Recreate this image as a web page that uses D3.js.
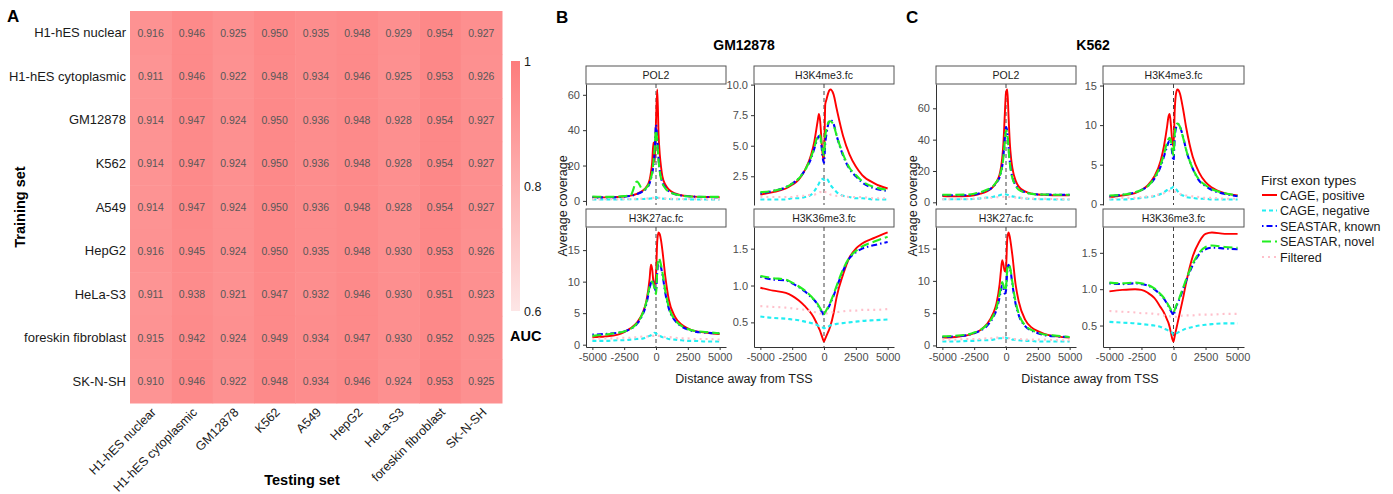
<!DOCTYPE html>
<html>
<head>
<meta charset="utf-8">
<title></title>
<style>
  body { margin: 0; background: #fff; }
  svg { font-family: "Liberation Sans", Arial, sans-serif; }
</style>
</head>
<body>
<script src="https://d3js.org/d3.v7.min.js"></script>
<script>
// ---- panel A data: AUC of training set (rows) vs testing set (cols)
const cellLines = ["H1-hES nuclear", "H1-hES cytoplasmic", "GM12878", "K562", "A549",
  "HepG2", "HeLa-S3", "foreskin fibroblast", "SK-N-SH"];
const auc = [
  [0.916, 0.946, 0.925, 0.950, 0.935, 0.948, 0.929, 0.954, 0.927],
  [0.911, 0.946, 0.922, 0.948, 0.934, 0.946, 0.925, 0.953, 0.926],
  [0.914, 0.947, 0.924, 0.950, 0.936, 0.948, 0.928, 0.954, 0.927],
  [0.914, 0.947, 0.924, 0.950, 0.936, 0.948, 0.928, 0.954, 0.927],
  [0.914, 0.947, 0.924, 0.950, 0.936, 0.948, 0.928, 0.954, 0.927],
  [0.916, 0.945, 0.924, 0.950, 0.935, 0.948, 0.930, 0.953, 0.926],
  [0.911, 0.938, 0.921, 0.947, 0.932, 0.946, 0.930, 0.951, 0.923],
  [0.915, 0.942, 0.924, 0.949, 0.934, 0.947, 0.930, 0.952, 0.925],
  [0.910, 0.946, 0.922, 0.948, 0.934, 0.946, 0.924, 0.953, 0.925]
];
const aucTicks = ["0.6", "0.8", "1"];

// ---- panels B / C: average coverage around the TSS
const distance = [-5000, -4000, -3000, -2500, -2000, -1500, -1000, -750, -500, -400, -300, -200, -100,
  0, 100, 200, 300, 400, 500, 750, 1000, 1500, 2000, 2500, 3000, 4000, 5000];
const distTicks = [-5000, -2500, 0, 2500, 5000];
const exonTypes = ["CAGE, positive", "CAGE, negative", "SEASTAR, known", "SEASTAR, novel", "Filtered"];
const marks = ["POL2", "H3K4me3.fc", "H3K27ac.fc", "H3K36me3.fc"];

// each: [positive, negative, known, novel, filtered]
const gmPOL2 = [
  [2.0,2.0,2.2,2.5,3.0,4.0,6.0,8.0,12,16,22,33,22,45,63,38,26,19,14,9,6.5,4.2,3.2,2.7,2.4,2.2,2.1],
  [0.8,0.8,0.8,0.9,0.9,1.0,1.1,1.2,1.3,1.4,1.5,1.6,1.8,2.0,1.8,1.6,1.5,1.4,1.3,1.2,1.1,1.0,0.9,0.9,0.8,0.8,0.8],
  [2.0,2.0,2.1,2.4,2.9,3.8,5.5,7,10,12.5,15.5,20,28,43,35,24,17,13,10.5,7.5,5.5,3.8,3.0,2.6,2.4,2.2,2.1],
  [2.5,2.3,2.4,2.7,3.2,11,6,7.5,10.5,13,16,22,30,40,33,23,16.5,12.5,10,7,5.2,3.8,3.0,2.6,2.4,2.3,2.3],
  [1.0,1.0,1.0,1.1,1.1,1.2,1.3,1.4,1.5,1.6,1.7,1.8,1.9,2.0,1.9,1.8,1.7,1.6,1.5,1.4,1.3,1.2,1.1,1.1,1.0,1.0,1.0]
];
const gmK4me3 = [
  [1.0,1.2,1.5,1.8,2.2,3.0,4.3,5.4,7.0,7.6,7.0,5.5,4.2,3.8,8.4,8.8,9.2,9.5,9.6,9.2,8.0,5.8,4.3,3.3,2.6,1.9,1.5],
  [0.6,0.6,0.6,0.7,0.7,0.8,1.0,1.3,1.7,1.9,2.1,2.2,2.3,2.2,2.3,2.3,2.2,2.0,1.8,1.5,1.2,0.9,0.8,0.7,0.7,0.6,0.6],
  [1.1,1.3,1.6,1.9,2.3,3.0,4.0,4.8,5.6,5.8,5.7,5.0,4.0,3.6,5.2,6.0,6.6,7.0,7.1,6.8,5.8,4.2,3.1,2.5,2.0,1.5,1.3],
  [1.2,1.3,1.6,1.9,2.3,3.0,4.1,4.9,5.8,5.9,5.8,5.2,4.6,4.2,5.8,6.4,6.8,7.0,7.0,6.7,5.8,4.3,3.2,2.6,2.1,1.6,1.4],
  [0.8,0.8,0.8,0.8,0.9,0.9,1.0,1.0,1.1,1.1,1.2,1.2,1.2,1.1,1.2,1.2,1.1,1.1,1.0,1.0,0.9,0.9,0.8,0.8,0.8,0.7,0.7]
];
const gmK27ac = [
  [1.2,1.3,1.6,2.0,2.6,3.5,5.3,7.0,10.5,12.7,12.0,10.0,9.5,11.0,16.5,17.8,17.5,16.5,15.0,10.5,7.2,4.4,3.2,2.6,2.2,1.9,1.7],
  [0.6,0.6,0.7,0.7,0.8,0.9,1.0,1.2,1.4,1.5,1.6,1.7,1.9,1.8,1.6,1.5,1.4,1.3,1.2,1.1,0.9,0.8,0.7,0.6,0.6,0.5,0.5],
  [1.6,1.7,1.9,2.1,2.5,3.3,5.0,6.5,9.0,9.8,10.2,9.8,9.0,8.5,11.5,13.2,13.0,12.2,11.2,8.0,5.8,3.8,2.9,2.4,2.1,1.9,1.8],
  [1.4,1.6,1.9,2.1,2.5,3.4,5.2,6.8,9.2,9.8,10.0,9.6,8.8,8.0,12.0,13.7,13.4,12.6,11.5,8.3,6.0,3.9,3.0,2.5,2.2,2.0,1.8],
  [0.9,1.0,1.0,1.1,1.1,1.2,1.3,1.3,1.4,1.4,1.4,1.4,1.4,1.3,1.4,1.4,1.4,1.3,1.3,1.2,1.2,1.1,1.0,1.0,0.9,0.9,0.8]
];
const gmK36me3 = [
  [0.97,0.93,0.90,0.86,0.80,0.72,0.62,0.55,0.46,0.42,0.38,0.33,0.28,0.24,0.28,0.32,0.36,0.40,0.45,0.62,0.85,1.15,1.38,1.50,1.57,1.65,1.72],
  [0.58,0.56,0.55,0.54,0.53,0.51,0.49,0.48,0.46,0.45,0.44,0.43,0.43,0.42,0.43,0.44,0.44,0.45,0.46,0.47,0.48,0.49,0.50,0.51,0.52,0.53,0.54],
  [1.12,1.08,1.07,1.03,0.98,0.92,0.84,0.80,0.74,0.71,0.68,0.65,0.62,0.60,0.63,0.66,0.69,0.72,0.76,0.86,0.98,1.20,1.37,1.45,1.50,1.55,1.59],
  [1.13,1.10,1.08,1.04,0.99,0.93,0.85,0.80,0.75,0.72,0.69,0.66,0.63,0.61,0.64,0.67,0.70,0.73,0.77,0.88,1.00,1.22,1.38,1.47,1.53,1.60,1.66],
  [0.72,0.71,0.70,0.69,0.68,0.67,0.65,0.64,0.63,0.63,0.62,0.62,0.62,0.62,0.62,0.62,0.63,0.63,0.63,0.64,0.64,0.65,0.66,0.66,0.67,0.67,0.68]
];
const kPOL2 = [
  [4.0,3.8,4.0,4.5,5.5,7,10,13,18,22,28,38,55,70,72,55,38,28,22,14,10,7,5.5,5,4.8,4.5,4.5],
  [2,2,2,2.2,2.5,3,3.5,4,4.5,4.8,5,5,5.2,5,4.8,4.5,4.2,4,3.8,3.4,3,2.5,2.2,2,2,1.8,1.8],
  [4.5,4.5,4.5,5,6,7.5,10,12.5,16,19,23,30,40,48,45,35,26,20,16,11,8.5,6.5,5.5,5,5,4.8,4.8],
  [4.8,4.8,5,5.5,6.5,8,10.5,13,16.5,19.5,23,29,38,46,44,34,25,19,15.5,10.5,8,6.3,5.4,5,5,4.8,4.8],
  [2,2,2.2,2.3,2.5,2.8,3,3.2,3.4,3.5,3.6,3.6,3.6,3.6,3.6,3.5,3.4,3.3,3.2,3,2.8,2.6,2.4,2.3,2.2,2.1,2]
];
const kK4me3 = [
  [0.9,1.1,1.4,1.8,2.4,3.5,5.5,7.3,9.8,11,11.4,10,8,7.3,12,14,14.5,14.4,14,12,9.6,6,4,2.8,2.1,1.4,1.1],
  [0.6,0.6,0.7,0.8,0.9,1,1.3,1.5,1.8,1.9,2,2,2.1,2.2,2.1,1.9,1.7,1.5,1.3,1.1,0.9,0.8,0.7,0.7,0.6,0.6,0.6],
  [1.0,1.2,1.5,1.8,2.3,3.2,4.8,6,7.3,7.8,8,7.6,6.5,5.5,8.5,9.7,10.1,10.1,9.8,8.5,6.8,4.5,3,2.3,1.8,1.3,1.0],
  [1.1,1.2,1.5,1.8,2.3,3.3,5,6.3,7.8,8.2,8.4,8,7,6.2,9,9.9,10.2,10.1,9.8,8.4,6.8,4.5,3.1,2.4,1.9,1.4,1.1],
  [0.7,0.8,0.8,0.9,1,1.1,1.3,1.4,1.6,1.6,1.7,1.7,1.7,1.6,1.6,1.5,1.5,1.4,1.3,1.2,1.1,1,0.9,0.8,0.8,0.7,0.7]
];
const kK27ac = [
  [1.2,1.3,1.6,1.9,2.4,3.3,5,6.5,9.5,11.5,13.2,12.5,11.5,12,16.5,17.5,16.8,15.5,14,9.5,6.8,4,2.8,2.2,1.8,1.4,1.2],
  [0.6,0.6,0.7,0.7,0.8,0.8,0.9,1,1.1,1.1,1.1,1.2,1.2,1.2,1.1,1.1,1,1,0.9,0.9,0.8,0.7,0.7,0.6,0.6,0.6,0.6],
  [1.3,1.4,1.6,1.9,2.3,3,4.4,5.5,7.5,8.5,9.3,9,8,8.5,11.5,12.5,12,11,9.5,6.5,4.7,3,2.3,1.9,1.6,1.4,1.3],
  [1.4,1.5,1.7,2,2.4,3.2,4.6,5.8,8,9,9.8,9.3,8.5,9,11.8,12.5,12.2,11.2,9.8,6.8,4.9,3.1,2.4,2,1.7,1.5,1.3],
  [0.9,0.9,1,1,1,1.1,1.1,1.2,1.2,1.2,1.2,1.2,1.2,1.1,1.1,1.1,1.1,1,1,1,1,0.9,0.9,0.9,0.9,0.8,0.8]
];
const kK36me3 = [
  [0.97,0.99,1.0,0.99,0.95,0.88,0.75,0.68,0.58,0.54,0.48,0.40,0.32,0.28,0.36,0.44,0.52,0.60,0.68,0.88,1.10,1.45,1.65,1.76,1.78,1.76,1.76],
  [0.55,0.54,0.53,0.52,0.51,0.50,0.48,0.46,0.44,0.43,0.42,0.41,0.40,0.37,0.38,0.39,0.40,0.41,0.42,0.44,0.46,0.48,0.50,0.51,0.52,0.53,0.53],
  [1.08,1.07,1.08,1.07,1.05,1.00,0.92,0.87,0.80,0.77,0.73,0.70,0.67,0.64,0.70,0.76,0.80,0.84,0.88,1.00,1.12,1.33,1.48,1.55,1.57,1.56,1.55],
  [1.09,1.08,1.09,1.08,1.06,1.01,0.93,0.88,0.81,0.78,0.75,0.72,0.70,0.68,0.72,0.77,0.81,0.85,0.90,1.02,1.14,1.35,1.50,1.58,1.60,1.58,1.57],
  [0.70,0.69,0.68,0.67,0.67,0.66,0.65,0.64,0.63,0.63,0.63,0.62,0.62,0.62,0.62,0.62,0.63,0.63,0.63,0.64,0.64,0.64,0.65,0.65,0.65,0.66,0.66]
];
// y tick labels per facet
const gmTicks = [["0","20","40","60"], ["2.5","5.0","7.5","10.0"], ["0","5","10","15"], ["0.5","1.0","1.5"]];
const kTicks = [["0","20","40","60"], ["0","5","10","15"], ["0","5","10","15"], ["0.5","1.0","1.5"]];

// styles
const typeColor = ["#ff0000", "#22eef2", "#0000ff", "#22ee22", "#ffc0cb"];
const typeDash = [null, "4,3", "1.5,3,6,3", "9,4", "2,4"];

const svg = d3.select("body").append("svg").attr("width", 1393).attr("height", 494);

// ================= panel A =================
svg.append("text").attr("x", 7).attr("y", 22).attr("font-size", 17).attr("font-weight", "bold").text("A");

const hx = d3.scaleBand().domain(cellLines).range([130, 502]);
const hy = d3.scaleBand().domain(cellLines).range([11, 403]);
const fill = d3.scaleLinear().domain([0.6, 1]).range(["#fde6e6", "#fd7c7c"]);

const cells = [];
auc.forEach((row, i) => row.forEach((v, j) => cells.push({r: cellLines[i], c: cellLines[j], v: v})));

svg.append("g").selectAll("rect").data(cells).join("rect")
  .attr("x", d => hx(d.c)).attr("y", d => hy(d.r))
  .attr("width", hx.bandwidth() + 0.5).attr("height", hy.bandwidth() + 0.5)
  .attr("fill", d => fill(d.v));

svg.append("g").selectAll("text").data(cells).join("text")
  .attr("x", d => hx(d.c) + hx.bandwidth() / 2).attr("y", d => hy(d.r) + hy.bandwidth() / 2 + 4)
  .attr("text-anchor", "middle").attr("font-size", 10.5).attr("fill", "#585858")
  .text(d => d3.format(".3f")(d.v));

svg.append("g").selectAll("text").data(cellLines).join("text")
  .attr("x", 126).attr("y", d => hy(d) + hy.bandwidth() / 2 + 4.5)
  .attr("text-anchor", "end").attr("font-size", 13).attr("fill", "#1a1a1a")
  .text(d => d);

svg.append("g").selectAll("text").data(cellLines).join("text")
  .attr("transform", d => `translate(${hx(d) + hx.bandwidth() / 2 + 6},${413}) rotate(-45)`)
  .attr("text-anchor", "end").attr("font-size", 12.5).attr("fill", "#1a1a1a")
  .text(d => d);

svg.append("text").attr("x", 302).attr("y", 485).attr("text-anchor", "middle")
  .attr("font-size", 14.5).attr("font-weight", "bold").text("Testing set");
svg.append("text").attr("transform", "translate(25,207) rotate(-90)").attr("text-anchor", "middle")
  .attr("font-size", 14.5).attr("font-weight", "bold").text("Training set");

// colour bar
const grad = svg.append("defs").append("linearGradient").attr("id", "aucgrad")
  .attr("x1", 0).attr("y1", 1).attr("x2", 0).attr("y2", 0);
grad.append("stop").attr("offset", "0%").attr("stop-color", fill(0.6));
grad.append("stop").attr("offset", "100%").attr("stop-color", fill(1));
const cb = d3.scaleLinear().domain([0.6, 1]).range([311, 61]);
svg.append("rect").attr("x", 511).attr("y", cb(1)).attr("width", 9).attr("height", cb(0.6) - cb(1))
  .attr("fill", "url(#aucgrad)");
svg.append("g").selectAll("text").data(aucTicks).join("text")
  .attr("x", 524).attr("y", d => cb(+d) + 4.5).attr("font-size", 12.5).attr("fill", "#1a1a1a")
  .text(d => d);
svg.append("text").attr("x", 510).attr("y", 341).attr("font-size", 14.5).attr("font-weight", "bold").text("AUC");

// ================= panels B and C =================
function facet(x0, x1, top, bottom, title, series, tickLabels, showX) {
  const g = svg.append("g");
  const x = d3.scaleLinear().domain([-5500, 5500]).range([x0, x1]);
  const all = series.flat();
  let lo = d3.min(all), hi = d3.max(all), pad = (hi - lo) * 0.05;
  const y = d3.scaleLinear().domain([lo - pad, hi + pad]).range([bottom, top]);

  // strip
  g.append("rect").attr("x", x0).attr("y", top - 18).attr("width", x1 - x0).attr("height", 18)
    .attr("fill", "#fff").attr("stroke", "#555").attr("stroke-width", 1);
  g.append("text").attr("x", (x0 + x1) / 2).attr("y", top - 5.5).attr("text-anchor", "middle")
    .attr("font-size", 10.5).attr("fill", "#222").text(title);

  g.append("line").attr("x1", x(0)).attr("x2", x(0)).attr("y1", top).attr("y2", bottom)
    .attr("stroke", "#444").attr("stroke-dasharray", "4,3");

  const line = d3.line().x((d, i) => x(distance[i])).y(d => y(d)).curve(d3.curveMonotoneX);
  series.forEach((s, k) => {
    g.append("path").datum(s).attr("d", line).attr("fill", "none")
      .attr("stroke", typeColor[k]).attr("stroke-width", k === 0 ? 1.9 : 2.1)
      .attr("stroke-dasharray", typeDash[k]);
  });

  const ya = g.append("g").attr("transform", `translate(${x0},0)`)
    .call(d3.axisLeft(y).tickValues(tickLabels.map(Number)).tickFormat((d, i) => tickLabels[i]).tickSize(3).tickSizeOuter(0));
  ya.select(".domain").attr("stroke", "#333");
  ya.selectAll("line").attr("stroke", "#333");
  ya.selectAll("text").attr("font-size", 11).attr("fill", "#4d4d4d").attr("font-family", null);

  if (showX) {
    const xa = g.append("g").attr("transform", `translate(0,${bottom})`)
      .call(d3.axisBottom(x).tickValues(distTicks).tickFormat(d => String(d)).tickSize(3).tickSizeOuter(0));
    xa.select(".domain").attr("stroke", "#333");
    xa.selectAll("line").attr("stroke", "#333");
    xa.selectAll("text").attr("font-size", 11).attr("fill", "#4d4d4d").attr("font-family", null);
  }
}

function cellLinePanel(letter, lx, title, tx, cols, data, ticks, ylabX, xlabX) {
  svg.append("text").attr("x", lx).attr("y", 23).attr("font-size", 17).attr("font-weight", "bold").text(letter);
  svg.append("text").attr("x", tx).attr("y", 50).attr("text-anchor", "middle")
    .attr("font-size", 14).attr("font-weight", "bold").text(title);
  const rows = [[84, 205], [227, 347]];
  data.forEach((d, i) => {
    const c = cols[i % 2], r = rows[Math.floor(i / 2)];
    facet(c[0], c[1], r[0], r[1], marks[i], d, ticks[i], i >= 2);
  });
  svg.append("text").attr("transform", `translate(${ylabX},206) rotate(-90)`).attr("text-anchor", "middle")
    .attr("font-size", 12.5).attr("fill", "#1a1a1a").text("Average coverage");
  svg.append("text").attr("x", xlabX).attr("y", 383).attr("text-anchor", "middle")
    .attr("font-size", 12.5).attr("fill", "#1a1a1a").text("Distance away from TSS");
}

cellLinePanel("B", 556, "GM12878", 744, [[586, 726], [754, 894]],
  [gmPOL2, gmK4me3, gmK27ac, gmK36me3], gmTicks, 567, 744);
cellLinePanel("C", 906, "K562", 1093, [[936, 1076], [1103, 1244]],
  [kPOL2, kK4me3, kK27ac, kK36me3], kTicks, 917, 1090);

// legend
const leg = svg.append("g");
leg.append("text").attr("x", 1261).attr("y", 185).attr("font-size", 13.5).attr("fill", "#1a1a1a").text("First exon types");
exonTypes.forEach((t, k) => {
  const yy = 195 + k * 15.5;
  leg.append("line").attr("x1", 1262).attr("x2", 1277).attr("y1", yy).attr("y2", yy)
    .attr("stroke", typeColor[k]).attr("stroke-width", 2).attr("stroke-dasharray", typeDash[k]);
  leg.append("text").attr("x", 1280).attr("y", yy + 4.5).attr("font-size", 12.5).attr("fill", "#1a1a1a").text(t);
});
</script>
</body>
</html>
